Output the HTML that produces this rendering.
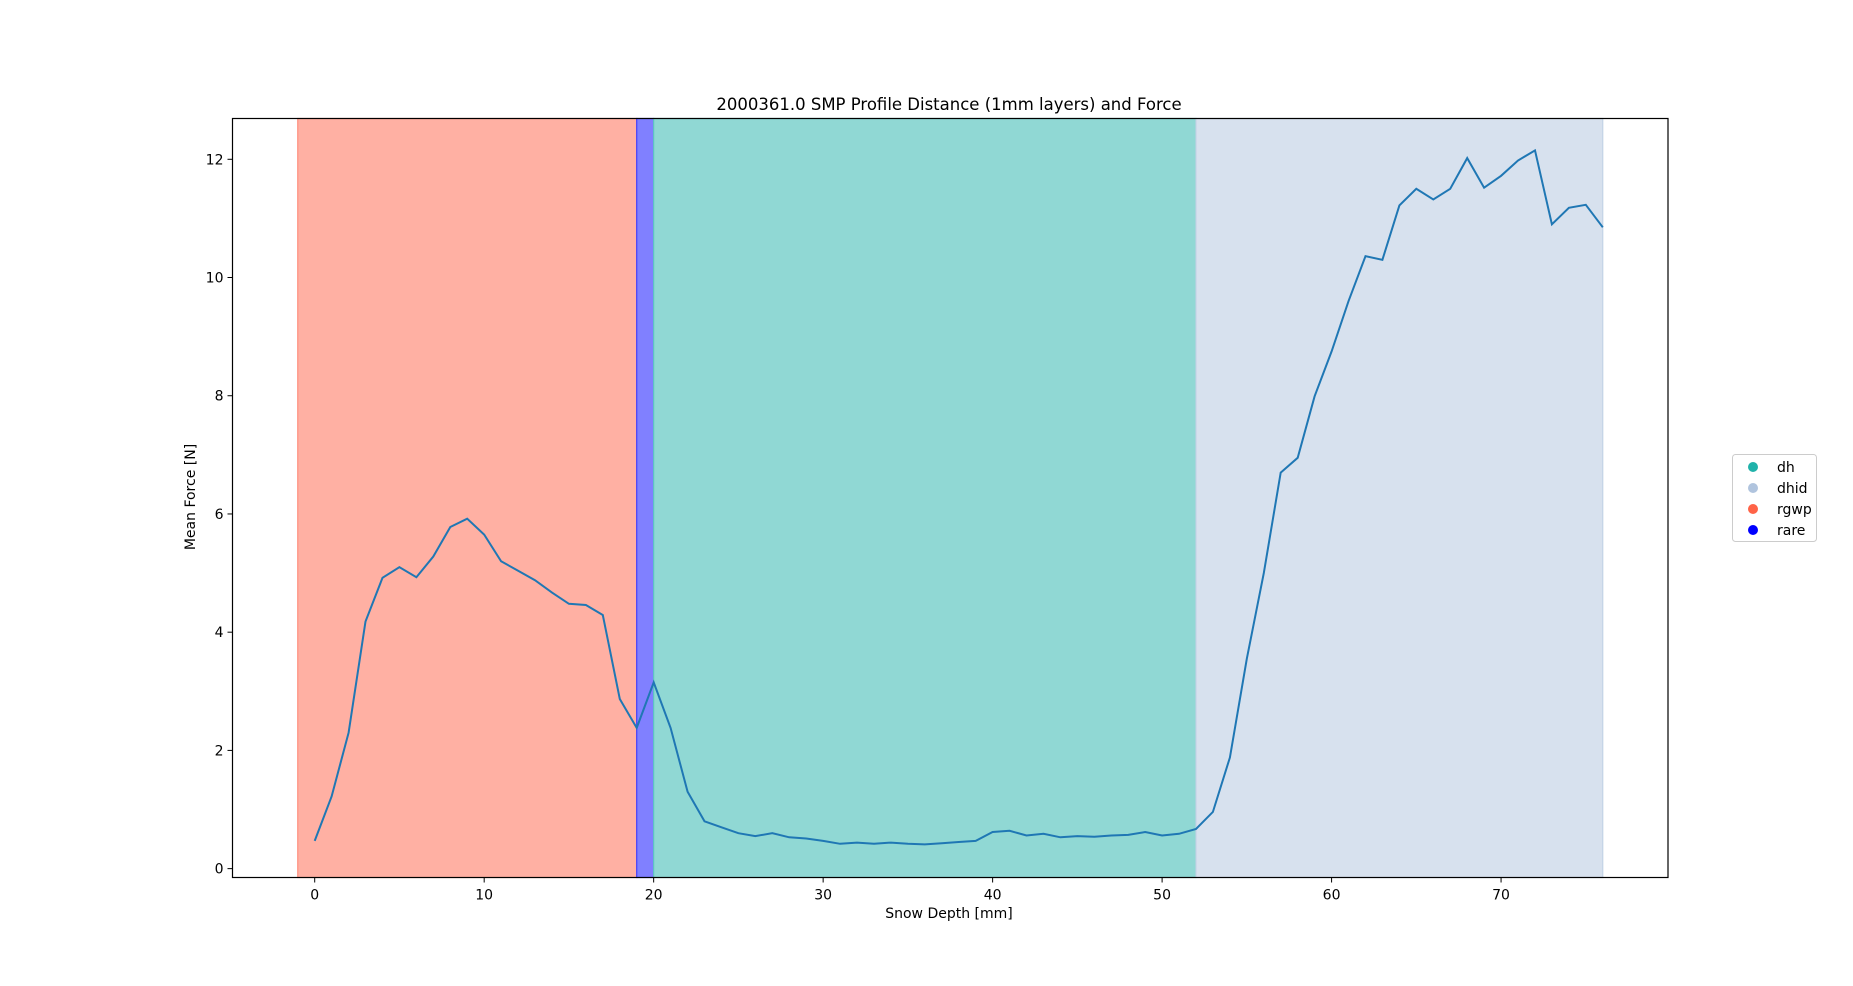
<!DOCTYPE html>
<html><head><meta charset="utf-8"><style>
html,body{margin:0;padding:0;background:#fff;}
svg{display:block;font-family:"DejaVu Sans","Liberation Sans",sans-serif;}
</style></head><body>
<svg id="chart" width="1853" height="986">
<rect width="1853" height="986" fill="#fff"/>
<g id="spans"></g>
<g id="ticks"></g>
<path id="line" fill="none" stroke="#1f77b4" stroke-width="2"/>
<rect x="232.5" y="118.5" width="1435.5" height="759" fill="none" stroke="#000" stroke-width="1.2"/>
<text x="949" y="110" text-anchor="middle" font-size="16.5">2000361.0 SMP Profile Distance (1mm layers) and Force</text>
<text x="949" y="918" text-anchor="middle" font-size="14">Snow Depth [mm]</text>
<text x="0" y="0" transform="translate(195,497) rotate(-90)" text-anchor="middle" font-size="14">Mean Force [N]</text>
<g>
<rect x="1732.5" y="454.5" width="84" height="87" rx="3" fill="#fff" stroke="#ccc"/>
<g><circle cx="1753" cy="467" r="5" fill="#20b2aa"/><text x="1777" y="472" font-size="14">dh</text></g>
<g><circle cx="1753" cy="488" r="5" fill="#b0c4de"/><text x="1777" y="493" font-size="14">dhid</text></g>
<g><circle cx="1753" cy="509" r="5" fill="#ff6347"/><text x="1777" y="514" font-size="14">rgwp</text></g>
<g><circle cx="1753" cy="530" r="5" fill="#0000ff"/><text x="1777" y="535" font-size="14">rare</text></g>
</g>
</svg>
<script>
const force = [0.47,1.22,2.3,4.18,4.92,5.1,4.93,5.28,5.78,5.92,5.65,5.2,5.04,4.88,4.67,4.48,4.46,4.29,2.87,2.38,3.15,2.38,1.3,0.8,0.7,0.6,0.55,0.6,0.53,0.51,0.47,0.42,0.44,0.42,0.44,0.42,0.41,0.43,0.45,0.47,0.62,0.64,0.56,0.59,0.53,0.55,0.54,0.56,0.57,0.62,0.56,0.59,0.67,0.96,1.88,3.55,5.0,6.7,6.95,7.99,8.75,9.6,10.36,10.3,11.22,11.5,11.32,11.5,12.02,11.52,11.72,11.98,12.15,10.9,11.18,11.23,10.85];
const spanStarts = [-1,19,20,52];
const spanEnds = [19,20,52,76];
const spanLabels = ['rgwp','rare','dh','dhid'];
const spanFills = ['#ffb0a3','#8080ff','#90d8d4','#d7e1ee'];
const spanEdges = ['#ff8f7e','#4040ff','#5fc7c2','#c4d3e6'];
const xTicks = [0,10,20,30,40,50,60,70];
const yTicks = [0,2,4,6,8,10,12];
const L=232.5,R=1668,T=118.5,B=877.5;
const xmin=-4.85,xmax=79.85,ymin=-0.15,ymax=12.69;
const X=v=>L+(v-xmin)/(xmax-xmin)*(R-L);
const Y=v=>B-(v-ymin)/(ymax-ymin)*(B-T);
const NS='http://www.w3.org/2000/svg';
const sp=document.getElementById('spans');
spanStarts.forEach((s,i)=>{
  const r=document.createElementNS(NS,'rect');
  r.setAttribute('x',X(s));r.setAttribute('y',T);
  r.setAttribute('width',X(spanEnds[i])-X(s));r.setAttribute('height',B-T);
  r.setAttribute('fill',spanFills[i]);r.setAttribute('stroke',spanEdges[i]);r.setAttribute('stroke-width','1.2');
  
  
  sp.appendChild(r);
});
const tk=document.getElementById('ticks');
xTicks.forEach(v=>{
  const l=document.createElementNS(NS,'line');
  l.setAttribute('x1',X(v));l.setAttribute('x2',X(v));l.setAttribute('y1',B);l.setAttribute('y2',B+5);l.setAttribute('stroke','#000');
  
  
  tk.appendChild(l);
  const t=document.createElementNS(NS,'text');
  t.setAttribute('x',X(v));t.setAttribute('y',B+22);t.setAttribute('text-anchor','middle');t.setAttribute('font-size','14');
  t.textContent=v;
  
  
  tk.appendChild(t);
});
yTicks.forEach(v=>{
  const l=document.createElementNS(NS,'line');
  l.setAttribute('x1',L-5);l.setAttribute('x2',L);l.setAttribute('y1',Y(v));l.setAttribute('y2',Y(v));l.setAttribute('stroke','#000');
  
  
  tk.appendChild(l);
  const t=document.createElementNS(NS,'text');
  t.setAttribute('x',L-9);t.setAttribute('y',Y(v)+5);t.setAttribute('text-anchor','end');t.setAttribute('font-size','14');
  t.textContent=v;
  
  
  tk.appendChild(t);
});
document.getElementById('line').setAttribute('d',force.map((v,i)=>(i?'L':'M')+X(i).toFixed(1)+','+Y(v).toFixed(1)).join(''));
</script>
</body></html>
